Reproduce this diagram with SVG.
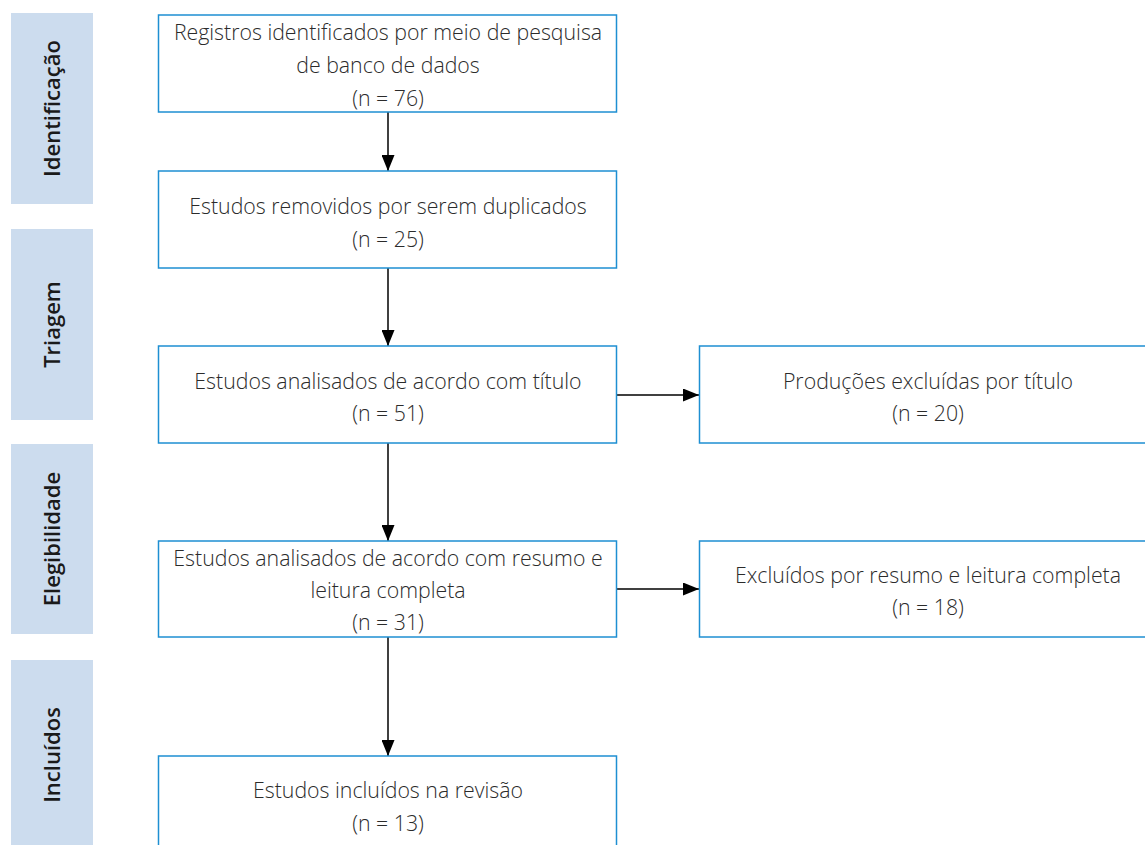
<svg xmlns="http://www.w3.org/2000/svg" width="1145" height="845" viewBox="0 0 1145 845">
<defs>
<style>
.band{fill:#ccdcee}
.bl{font-family:"Open Sans","Liberation Sans",sans-serif;font-weight:600;font-size:22px;fill:#1a1a1a;text-anchor:middle}
.box{fill:#fff;stroke:#1e8fd2;stroke-width:1.5}
.t{font-family:"Open Sans","Liberation Sans",sans-serif;font-weight:300;font-size:21.3px;fill:#2b2b2b;text-anchor:middle}
.c{stroke:#000;stroke-width:1.5;fill:none}
</style>
<marker id="ah" viewBox="0 0 16 13" refX="16" refY="6.5" markerWidth="16" markerHeight="13" markerUnits="userSpaceOnUse" orient="auto">
<path d="M0,0 L16,6.5 L0,13 z" fill="#000"/>
</marker>
</defs>
<rect width="1145" height="845" fill="#fff"/>
<g id="band-identificacao"><rect class="band" x="11" y="13" width="82" height="191"/><text class="bl" transform="translate(60,108.5) rotate(-90)">Identificação</text></g>
<g id="band-triagem"><rect class="band" x="11" y="229" width="82" height="191"/><text class="bl" transform="translate(60,324.5) rotate(-90)">Triagem</text></g>
<g id="band-elegibilidade"><rect class="band" x="11" y="444" width="82" height="190"/><text class="bl" transform="translate(60,539) rotate(-90)">Elegibilidade</text></g>
<g id="band-incluidos"><rect class="band" x="11" y="660" width="82" height="195"/><text class="bl" transform="translate(60,755) rotate(-90)">Incluídos</text></g>
<g id="connectors">
<line class="c" x1="388" y1="112" x2="388" y2="171" marker-end="url(#ah)"/>
<line class="c" x1="388" y1="268" x2="388" y2="346" marker-end="url(#ah)"/>
<line class="c" x1="388" y1="443" x2="388" y2="541" marker-end="url(#ah)"/>
<line class="c" x1="388" y1="637" x2="388" y2="756" marker-end="url(#ah)"/>
<line class="c" x1="617" y1="395" x2="699" y2="395" marker-end="url(#ah)"/>
<line class="c" x1="617" y1="589" x2="699" y2="589" marker-end="url(#ah)"/>
</g>
<g id="n1"><rect class="box" x="158.5" y="15" width="458" height="97"/><text class="t" x="388" y="39.5">Registros identificados por meio de pesquisa</text><text class="t" x="388" y="72.5">de banco de dados</text><text class="t" x="388" y="105.5">(n = 76)</text></g>
<g id="n2"><rect class="box" x="158.5" y="171" width="458" height="97"/><text class="t" x="388" y="213.5">Estudos removidos por serem duplicados</text><text class="t" x="388" y="246.5">(n = 25)</text></g>
<g id="n3"><rect class="box" x="158.5" y="346" width="458" height="97"/><text class="t" x="388" y="388.5">Estudos analisados de acordo com título</text><text class="t" x="388" y="420.5">(n = 51)</text></g>
<g id="n3r"><rect class="box" x="699.5" y="346" width="450" height="97"/><text class="t" x="928" y="388.5">Produções excluídas por título</text><text class="t" x="928" y="420.5">(n = 20)</text></g>
<g id="n4"><rect class="box" x="158.5" y="541" width="458" height="96"/><text class="t" x="388" y="565.5">Estudos analisados de acordo com resumo e</text><text class="t" x="388" y="597.5">leitura completa</text><text class="t" x="388" y="629.5">(n = 31)</text></g>
<g id="n4r"><rect class="box" x="699.5" y="541" width="450" height="96"/><text class="t" x="928" y="582.5">Excluídos por resumo e leitura completa</text><text class="t" x="928" y="614.5">(n = 18)</text></g>
<g id="n5"><rect class="box" x="158.5" y="756" width="458" height="100"/><text class="t" x="388" y="797.5">Estudos incluídos na revisão</text><text class="t" x="388" y="830.5">(n = 13)</text></g>
</svg>
